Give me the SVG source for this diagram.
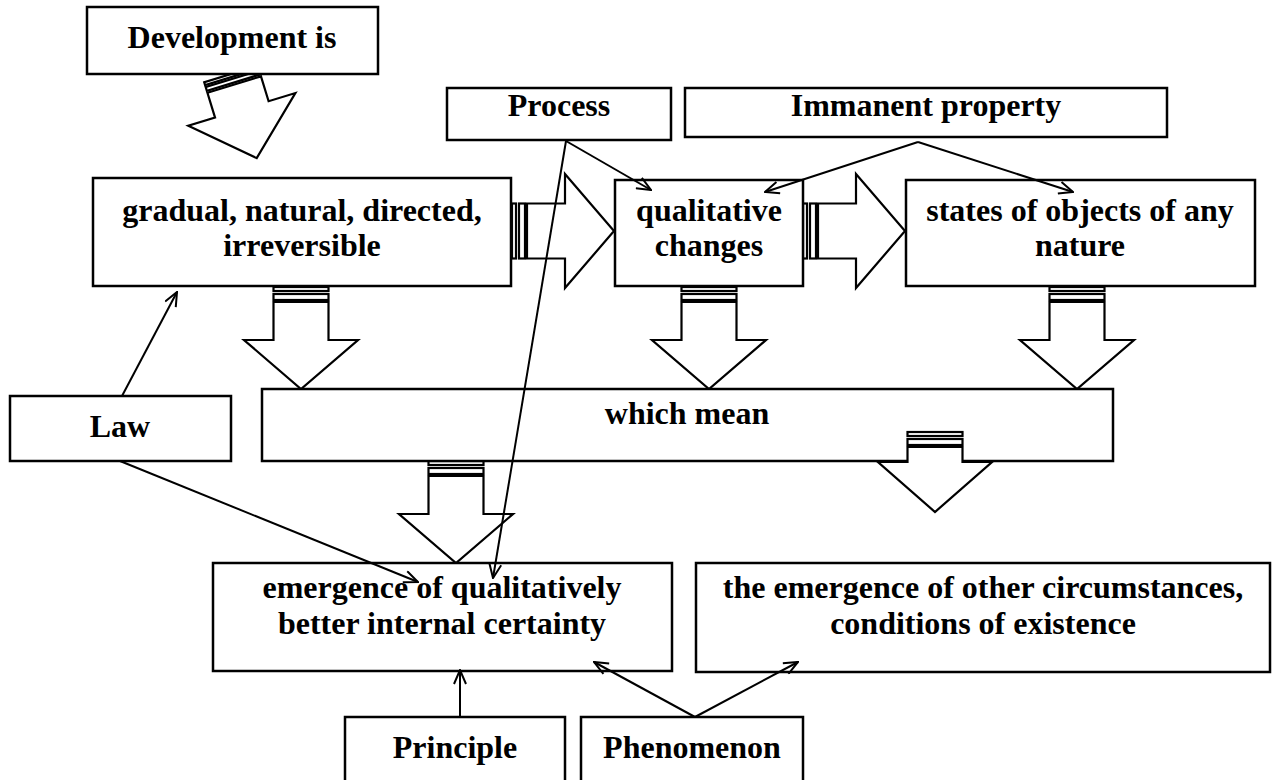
<svg xmlns="http://www.w3.org/2000/svg" width="1274" height="780" viewBox="0 0 1274 780">
  <style>
    .box { fill: #fff; stroke: #000; stroke-width: 2.5; }
    .lbl { font-family: "Liberation Serif", "Times New Roman", serif; font-weight: bold; font-size: 32px; fill: #000; text-anchor: middle; }
    .blk { fill: #fff; stroke: #000; stroke-width: 2.2; stroke-linejoin: miter; }
    .con { fill: none; stroke: #000; stroke-width: 2; }
  </style>
  <defs>
    <marker id="open" viewBox="0 0 16 14" refX="15" refY="7" markerWidth="16" markerHeight="14" markerUnits="userSpaceOnUse" orient="auto">
      <path d="M1,1 L15,7 L1,13" fill="none" stroke="#000" stroke-width="2"/>
    </marker>
    <!-- striped block arrow, pointing down, tail centre at the origin -->
    <g id="blockArrow">
      <rect class="blk" x="-27.5" y="0" width="55" height="4"/>
      <rect class="blk" x="-27.5" y="7" width="55" height="6"/>
      <polygon class="blk" points="-27.5,15 27.5,15 27.5,53 57,53 0,102 -57,53 -27.5,53"/>
    </g>
  </defs>

  <!-- block arrows -->
  <g id="block-arrows">
    <g transform="translate(231,74) rotate(-17)">
      <rect class="blk" x="-28" y="0" width="56" height="3"/>
      <rect class="blk" x="-28" y="5" width="56" height="4"/>
      <polygon class="blk" points="-28,11 28,11 28,37 56,37 0,88 -56,37 -28,37"/>
    </g>
    <use href="#blockArrow" transform="translate(512,231) rotate(-90)"/>
    <use href="#blockArrow" transform="translate(803,231) rotate(-90)"/>
    <use href="#blockArrow" transform="translate(301,287)"/>
    <use href="#blockArrow" transform="translate(709,287)"/>
    <use href="#blockArrow" transform="translate(1077,287)"/>
    <use href="#blockArrow" transform="translate(456,461)"/>
  </g>

  <g id="development">
    <rect class="box" x="87" y="7" width="291" height="67"/>
    <text class="lbl" x="232" y="48">Development is</text>
  </g>
  <g id="process">
    <rect class="box" x="447" y="88" width="224" height="52"/>
    <text class="lbl" x="559" y="116">Process</text>
  </g>
  <g id="immanent">
    <rect class="box" x="685" y="88" width="482" height="49"/>
    <text class="lbl" x="926" y="116">Immanent property</text>
  </g>
  <g id="gradual">
    <rect class="box" x="93" y="178" width="418" height="108"/>
    <text class="lbl" x="302" y="221">gradual, natural, directed,</text>
    <text class="lbl" x="302" y="256">irreversible</text>
  </g>
  <g id="qualitative">
    <rect class="box" x="615" y="180" width="188" height="106"/>
    <text class="lbl" x="709" y="221">qualitative</text>
    <text class="lbl" x="709" y="256">changes</text>
  </g>
  <g id="states">
    <rect class="box" x="906" y="180" width="349" height="106"/>
    <text class="lbl" x="1080" y="221">states of objects of any</text>
    <text class="lbl" x="1080" y="256">nature</text>
  </g>
  <g id="which-mean">
    <rect class="box" x="262" y="389" width="851" height="72"/>
    <text class="lbl" x="687" y="424">which mean</text>
  </g>
  <!-- short striped arrow overlapping the bottom of the "which mean" box -->
  <g id="block-arrow-right">
    <rect class="blk" x="907.5" y="432" width="55" height="4"/>
    <rect class="blk" x="907.5" y="439" width="55" height="6"/>
    <polygon class="blk" points="907.5,447 962.5,447 962.5,462 992,462 935,512 878,462 907.5,462"/>
  </g>
  <g id="law">
    <rect class="box" x="10" y="396" width="221" height="65"/>
    <text class="lbl" x="120" y="437">Law</text>
  </g>
  <g id="emergence-certainty">
    <rect class="box" x="213" y="563" width="459" height="108"/>
    <text class="lbl" x="442" y="598">emergence of qualitatively</text>
    <text class="lbl" x="442" y="634">better internal certainty</text>
  </g>
  <g id="emergence-circumstances">
    <rect class="box" x="696" y="563" width="574" height="109"/>
    <text class="lbl" x="983" y="598">the emergence of other circumstances,</text>
    <text class="lbl" x="983" y="634">conditions of existence</text>
  </g>
  <g id="principle">
    <rect class="box" x="345" y="717" width="220" height="70"/>
    <text class="lbl" x="455" y="758">Principle</text>
  </g>
  <g id="phenomenon">
    <rect class="box" x="581" y="717" width="222" height="70"/>
    <text class="lbl" x="692" y="758">Phenomenon</text>
  </g>

  <!-- connectors -->
  <g id="connectors">
    <line class="con" x1="566" y1="141" x2="651" y2="190" marker-end="url(#open)"/>
    <line class="con" x1="566" y1="141" x2="493" y2="578" marker-end="url(#open)"/>
    <line class="con" x1="918" y1="142" x2="765" y2="192" marker-end="url(#open)"/>
    <line class="con" x1="918" y1="142" x2="1073" y2="192" marker-end="url(#open)"/>
    <line class="con" x1="122" y1="396" x2="177" y2="292" marker-end="url(#open)"/>
    <line class="con" x1="120" y1="461" x2="418" y2="582" marker-end="url(#open)"/>
    <line class="con" x1="460" y1="717" x2="460" y2="670" marker-end="url(#open)"/>
    <line class="con" x1="695" y1="717" x2="594" y2="662" marker-end="url(#open)"/>
    <line class="con" x1="695" y1="717" x2="798" y2="662" marker-end="url(#open)"/>
  </g>
</svg>
